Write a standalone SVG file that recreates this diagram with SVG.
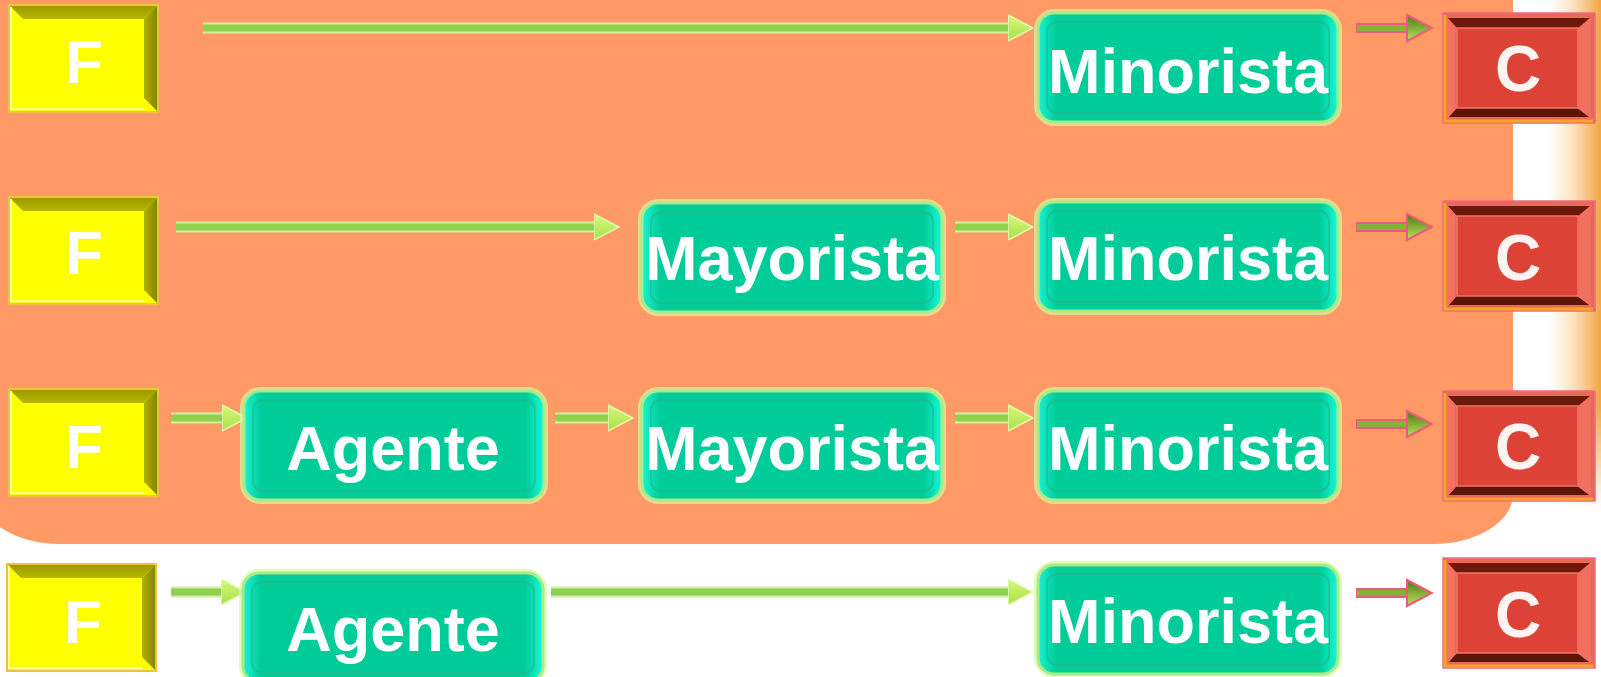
<svg xmlns="http://www.w3.org/2000/svg" xmlns:xlink="http://www.w3.org/1999/xlink" width="1601" height="677" viewBox="0 0 1601 677">
<style>
.t{font-family:"Liberation Sans",Arial,sans-serif;font-weight:bold;fill:#ffffff;text-anchor:middle}
.ft{font-size:62px}
.gt{font-size:63px}
.ct{font-size:64px;fill:#fff4f2}
.ao{fill:none;stroke:#d2f0a0;stroke-width:11}
.ai{fill:none;stroke:#8fd14f;stroke-width:7}
.so{fill:none;stroke:#ea5a7e;stroke-width:10}
.si{fill:none;stroke:#86b23a;stroke-width:6}
</style>
<defs>
<linearGradient id="gGrad" x1="0" y1="0" x2="1" y2="0">
<stop offset="0" stop-color="#1af2d6"/><stop offset="0.06" stop-color="#00cc99"/><stop offset="0.94" stop-color="#00cc99"/><stop offset="1" stop-color="#14fadc"/>
</linearGradient>
<linearGradient id="fTop" x1="0" y1="0" x2="0" y2="1"><stop offset="0" stop-color="#9a9a00"/><stop offset="1" stop-color="#b8b800"/></linearGradient>
<linearGradient id="fRight" x1="0" y1="0" x2="1" y2="0"><stop offset="0" stop-color="#b0b000"/><stop offset="1" stop-color="#868600"/></linearGradient>
<linearGradient id="hGrad" x1="0" y1="0" x2="0" y2="1"><stop offset="0" stop-color="#d8f878"/><stop offset="1" stop-color="#a8e04a"/></linearGradient>
<linearGradient id="sGrad" x1="0" y1="0" x2="0" y2="1"><stop offset="0" stop-color="#4e7a16"/><stop offset="1" stop-color="#bce25a"/></linearGradient>
<linearGradient id="strip" x1="0" y1="0" x2="1" y2="0"><stop offset="0" stop-color="#ffffff"/><stop offset="0.45" stop-color="#fde3c0"/><stop offset="1" stop-color="#f3a544"/></linearGradient>
<linearGradient id="stripFade" x1="0" y1="0" x2="0" y2="1"><stop offset="0.8" stop-color="#fff"/><stop offset="1" stop-color="#000"/></linearGradient>
<mask id="stripMask"><rect x="1550" y="0" width="51" height="510" fill="url(#stripFade)"/></mask>
<marker id="gHead" viewBox="0 0 26 28" refX="2" refY="14" markerWidth="26" markerHeight="28" markerUnits="userSpaceOnUse" orient="auto">
<path d="M0,1 L25,14 L0,27 Z" fill="url(#hGrad)" stroke="#e4f8b8" stroke-width="1.5"/>
</marker>
<marker id="sHead" viewBox="0 0 28 30" refX="3" refY="15" markerWidth="28" markerHeight="30" markerUnits="userSpaceOnUse" orient="auto">
<path d="M1,2 L26,15 L1,28 Z" fill="url(#sGrad)" stroke="#ea5a7e" stroke-width="2"/>
</marker>
<g id="fbox">
<rect x="1" y="1" width="149" height="107" fill="#ffff00" stroke="#f2c040" stroke-width="2"/>
<polygon points="2,2 149,2 136,15 15,15" fill="url(#fTop)"/>
<polygon points="149,2 149,107 136,94 136,15" fill="url(#fRight)"/>
<path d="M3,106 V3" stroke="#ffffa8" stroke-width="2"/>
<path d="M3,105 H136" stroke="#ffffa0" stroke-width="2"/>
</g>
<g id="gbox">
<rect x="-2.5" y="-2.5" width="305" height="114" rx="19" fill="none" stroke="#d8f6a4" stroke-width="3" opacity="0.7"/>
<rect x="0" y="0" width="300" height="109" rx="16" fill="url(#gGrad)" stroke="#a8ec88" stroke-width="3"/>
<rect x="9" y="9" width="282" height="91" rx="10" fill="none" stroke="#27b588" stroke-width="2" opacity="0.6"/>
</g>
<g id="cbox">
<rect x="0" y="0" width="152" height="110" fill="#e8685a" stroke="#ee6a82" stroke-width="1.5"/>
<path d="M2,2 V108 H150" fill="none" stroke="#f5a628" stroke-width="3"/>
<polygon points="4,4 148,4 136,16 12,16" fill="#f06a5a"/>
<polygon points="4,4 12,16 12,96 4,106" fill="#f47262"/>
<polygon points="148,4 136,16 136,96 148,106" fill="#f27060"/>
<polygon points="5,5 147,5 135,15 14,15" fill="#6a1a0b"/>
<polygon points="6,104 146,104 134,95 14,95" fill="#5e1509"/>
<rect x="14" y="15" width="121" height="80" fill="#dc4236" stroke="#f07462" stroke-width="1.5"/>
</g>
</defs>
<rect width="1601" height="677" fill="#ffffff"/>
<g id="background">
<rect x="1550" y="0" width="51" height="510" fill="url(#strip)" mask="url(#stripMask)"/>
<path d="M-20,-10 H1513 V494 A80,50 0 0 1 1433,544 H60 A80,50 0 0 1 -20,494 Z" fill="#ff9966"/>
</g>
<g id="connectors">
<path class="ao" d="M203,28 H1010"/><path class="ai" d="M203,28 H1010" marker-end="url(#gHead)"/>
<path class="ao" d="M176,227 H596"/><path class="ai" d="M176,227 H596" marker-end="url(#gHead)"/>
<path class="ao" d="M955,227 H1010"/><path class="ai" d="M955,227 H1010" marker-end="url(#gHead)"/>
<path class="ao" d="M171,418 H224"/><path class="ai" d="M171,418 H224" marker-end="url(#gHead)"/>
<path class="ao" d="M555,418 H610"/><path class="ai" d="M555,418 H610" marker-end="url(#gHead)"/>
<path class="ao" d="M955,418 H1010"/><path class="ai" d="M955,418 H1010" marker-end="url(#gHead)"/>
<path class="ao" d="M171,592 H223"/><path class="ai" d="M171,592 H223" marker-end="url(#gHead)"/>
<path class="ao" d="M551,592 H1010"/><path class="ai" d="M551,592 H1010" marker-end="url(#gHead)"/>
<path class="so" d="M1356,28 H1409"/><path class="si" d="M1357,28 H1409" marker-end="url(#sHead)"/>
<path class="so" d="M1356,227 H1409"/><path class="si" d="M1357,227 H1409" marker-end="url(#sHead)"/>
<path class="so" d="M1356,424 H1409"/><path class="si" d="M1357,424 H1409" marker-end="url(#sHead)"/>
<path class="so" d="M1356,593 H1409"/><path class="si" d="M1357,593 H1409" marker-end="url(#sHead)"/>
</g>
<g id="F1"><use href="#fbox" x="8" y="4"/><text class="t ft" x="84" y="83">F</text></g>
<g id="F2"><use href="#fbox" x="8" y="196"/><text class="t ft" x="84" y="274">F</text></g>
<g id="F3"><use href="#fbox" x="8" y="388"/><text class="t ft" x="84" y="468">F</text></g>
<g id="F4"><use href="#fbox" x="6" y="563"/><text class="t ft" x="83" y="643">F</text></g>
<g id="Minorista1"><use href="#gbox" x="1038" y="13"/><text class="t gt" x="1188" y="93">Minorista</text></g>
<g id="Mayorista2"><use href="#gbox" x="642" y="203"/><text class="t gt" x="792" y="280">Mayorista</text></g>
<g id="Minorista2"><use href="#gbox" x="1038" y="202"/><text class="t gt" x="1188" y="280">Minorista</text></g>
<g id="Agente3"><use href="#gbox" x="244" y="391"/><text class="t gt" x="393" y="470">Agente</text></g>
<g id="Mayorista3"><use href="#gbox" x="642" y="391"/><text class="t gt" x="792" y="470">Mayorista</text></g>
<g id="Minorista3"><use href="#gbox" x="1038" y="391"/><text class="t gt" x="1188" y="470">Minorista</text></g>
<g id="Agente4"><use href="#gbox" x="243" y="573"/><text class="t gt" x="393" y="651">Agente</text></g>
<g id="Minorista4"><use href="#gbox" x="1038" y="565"/><text class="t gt" x="1188" y="643">Minorista</text></g>
<g id="C1"><use href="#cbox" x="1443" y="13"/><text class="t ct" x="1518" y="91">C</text></g>
<g id="C2"><use href="#cbox" x="1443" y="201"/><text class="t ct" x="1518" y="280">C</text></g>
<g id="C3"><use href="#cbox" x="1443" y="391"/><text class="t ct" x="1518" y="469">C</text></g>
<g id="C4"><use href="#cbox" x="1443" y="558"/><text class="t ct" x="1518" y="637">C</text></g>
</svg>
